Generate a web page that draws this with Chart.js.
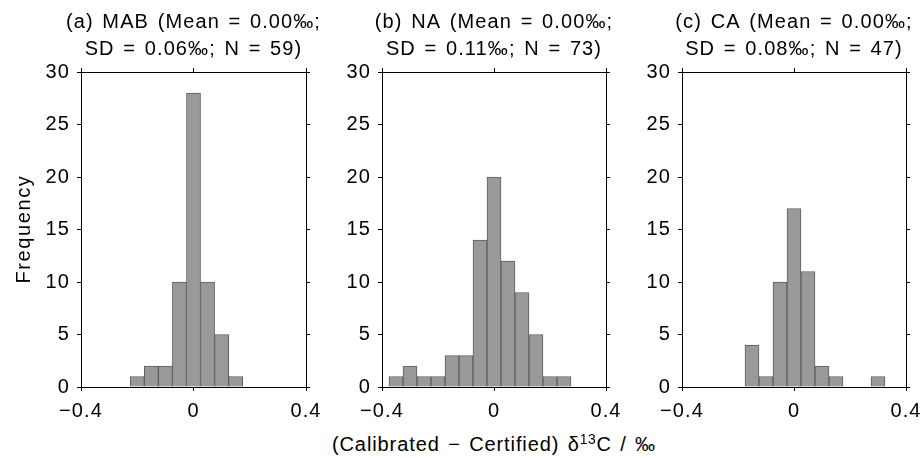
<!DOCTYPE html>
<html>
<head>
<meta charset="utf-8">
<script src="https://cdn.jsdelivr.net/npm/chart.js@4.4.1/dist/chart.umd.min.js"></script>
<style>
  html, body { margin: 0; background: #fff; overflow: hidden; }
  #wrap { position: relative; width: 922px; height: 458px; overflow: hidden; font-family: "Liberation Sans", Arial, sans-serif; color: #000; }
  canvas { position: absolute; top: 0; }
  .ylab { position: absolute; left: -77.5px; top: 217px; width: 200px; height: 24px; line-height: 24px;
          text-align: center; font-size: 20px; letter-spacing: 1.6px; transform: rotate(-90deg); }
  .xlab { position: absolute; left: 244px; top: 432px; width: 500px; height: 24px; line-height: 24px;
          text-align: center; font-size: 20px; letter-spacing: 0.9px; word-spacing: 2px; white-space: nowrap; }
  .xlab .sup { position: relative; top: -7px; font-size: 14px; letter-spacing: 0.5px; }
</style>
</head>
<body>
<div id="wrap">
  <canvas id="panelA" width="387" height="430" style="left:0px"></canvas>
  <canvas id="panelB" width="308" height="430" style="left:340px"></canvas>
  <canvas id="panelC" width="308" height="430" style="left:640px"></canvas>
  <div class="ylab">Frequency</div>
  <div class="xlab">(Calibrated − Certified) δ<span class="sup">13</span>C / ‰</div>
</div>
<script>
// 히스토그램 구간 중심값 (‰) 과 빈도
const binsMAB = [-0.2, -0.15, -0.1, -0.05, 0, 0.05, 0.1, 0.15];
const countsMAB = [1, 2, 2, 10, 28, 10, 5, 1];

const binsNA = [-0.35, -0.3, -0.25, -0.2, -0.15, -0.1, -0.05, 0, 0.05, 0.1, 0.15, 0.2, 0.25];
const countsNA = [1, 2, 1, 1, 3, 3, 14, 20, 12, 9, 5, 1, 1];

const binsCA = [-0.15, -0.1, -0.05, 0, 0.05, 0.1, 0.15, 0.3];
const countsCA = [4, 1, 10, 17, 11, 2, 1, 1];

const titleMAB = ["(a) MAB (Mean = 0.00‰;", "SD = 0.06‰; N = 59)"];
const titleNA = ["(b) NA (Mean = 0.00‰;", "SD = 0.11‰; N = 73)"];
const titleCA = ["(c) CA (Mean = 0.00‰;", "SD = 0.08‰; N = 47)"];

const xTicks = [-0.4, 0, 0.4];
const yMax = 30;
const yStep = 5;

const FONT = "'Liberation Sans', Arial, sans-serif";

function fmtX(v) {
  if (Math.abs(v) < 1e-9) return "0";
  return v < 0 ? "\u2212" + Math.abs(v) : String(v);
}

// 원본 그림의 글자가 조금 넓게 찍혀 있어서 자간/어간을 약간 준다
function widenText(chart) {
  chart.ctx.letterSpacing = "1.1px";
  chart.ctx.wordSpacing = "2px";
}
const textSpacingPlugin = {
  id: "textSpacing",
  beforeUpdate: widenText,
  beforeDraw: widenText,
};

// 제목이 플롯 중앙에 오도록 캔버스는 플롯 기준 좌우 대칭 (sideWidth = 좌우 축 폭)
function createHistogram(canvasId, title, bins, counts, sideWidth) {
  const canvas = document.getElementById(canvasId);
  if (!canvas) {
    console.error(`Canvas ${canvasId} not found`);
    return null;
  }
  const ctx = canvas.getContext("2d");
  const data = bins.map((b, i) => ({ x: b, y: counts[i] }));

  const frameGrid = {
    drawOnChartArea: false,
    drawTicks: true,
    tickLength: 4,
    color: "#000",
    lineWidth: 1,
    offset: false,
  };
  const frameBorder = { display: true, color: "#000", width: 1 };

  return new Chart(ctx, {
    type: "bar",
    data: {
      datasets: [
        {
          data: data,
          backgroundColor: "#999999",
          borderColor: "#5e5e5e",
          borderWidth: 1,
          barPercentage: 1,
          categoryPercentage: 1,
        },
      ],
    },
    options: {
      responsive: false,
      animation: false,
      layout: { padding: 0 },
      scales: {
        x: {
          type: "linear",
          position: "bottom",
          min: xTicks[0],
          max: xTicks[xTicks.length - 1],
          offset: false,
          afterBuildTicks: (s) => { s.ticks = xTicks.map((v) => ({ value: v })); },
          ticks: { color: "#000", padding: 8, maxRotation: 0, font: { family: FONT, size: 20 }, callback: fmtX },
          grid: frameGrid,
          border: frameBorder,
          afterFit: (s) => { s.height = 43; },
        },
        x2: {
          type: "linear",
          position: "top",
          min: xTicks[0],
          max: xTicks[xTicks.length - 1],
          offset: false,
          afterBuildTicks: (s) => { s.ticks = xTicks.map((v) => ({ value: v })); },
          ticks: { display: false },
          grid: frameGrid,
          border: frameBorder,
          afterFit: (s) => { s.height = 4; },
        },
        y: {
          position: "left",
          min: 0,
          max: yMax,
          ticks: { stepSize: yStep, color: "#000", padding: 7, font: { family: FONT, size: 20 } },
          grid: frameGrid,
          border: frameBorder,
          afterFit: (s) => { s.width = sideWidth; },
        },
        y2: {
          position: "right",
          min: 0,
          max: yMax,
          ticks: { stepSize: yStep, display: false },
          grid: frameGrid,
          border: frameBorder,
          afterFit: (s) => { s.width = sideWidth; },
        },
      },
      plugins: {
        legend: { display: false },
        tooltip: { enabled: false },
        title: {
          display: true,
          text: title,
          fullSize: true,
          color: "#000",
          font: { family: FONT, size: 20, weight: "normal", lineHeight: 1.35 },
          padding: { top: 9, bottom: 5 },
        },
      },
    },
    plugins: [textSpacingPlugin],
  });
}

createHistogram("panelA", titleMAB, binsMAB, countsMAB, 81);
createHistogram("panelB", titleNA, binsNA, countsNA, 42);
createHistogram("panelC", titleCA, binsCA, countsCA, 42);
</script>
</body>
</html>
